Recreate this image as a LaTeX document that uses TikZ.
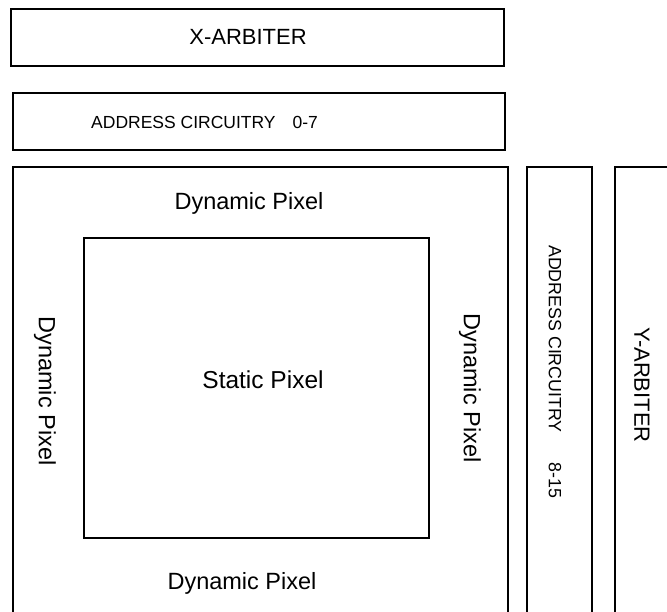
\documentclass[tikz,border=0pt]{standalone}
\usepackage{fontspec}
\setmainfont{Liberation Sans}
\begin{document}
\begin{tikzpicture}[x=1pt,y=-1pt,
  frame/.style={draw=black, line width=1.1pt},
  big/.style={font=\fontsize{22}{24}\selectfont, inner sep=0pt},
  dyn/.style={font=\fontsize{23.5}{26}\selectfont, inner sep=0pt},
  small/.style={font=\fontsize{17.5}{20}\selectfont, inner sep=0pt}]
\useasboundingbox (0,0) rectangle (667,611);
\clip (0,0) rectangle (667,611);
\fill[white] (0,0) rectangle (667,611);
% boxes
\draw[frame] (11,9) rectangle (504,66);
\draw[frame] (13,93) rectangle (505,150);
\draw[frame] (13,167) rectangle (508,640);
\draw[frame] (84,238) rectangle (429,538);
\draw[frame] (527,167) rectangle (592,640);
\draw[frame] (615,167) rectangle (700,640);
% labels
\node[big] (xarb) at (248,37) {X-ARBITER};
\node[small, anchor=west] (addr07) at (91,122) {ADDRESS CIRCUITRY\hspace{17pt}0-7};
\node[dyn] (dyntop) at (249,203) {Dynamic Pixel};
\node[dyn] (dynbot) at (242,583) {Dynamic Pixel};
\node[dyn, rotate=-90] (dynleft) at (45,391) {Dynamic Pixel};
\node[dyn, rotate=-90] (dynright) at (470,388) {Dynamic Pixel};
\node[dyn, font=\fontsize{24.5}{26}\selectfont] (static) at (263,380) {Static Pixel};
\node[small, font=\fontsize{17.8}{20}\selectfont, rotate=-90, anchor=west] (addr815) at (555,245) {ADDRESS CIRCUITRY\hspace{30pt}8-15};
\node[big, rotate=-90] (yarb) at (642,385) {Y-ARBITER};
\end{tikzpicture}
\end{document}
